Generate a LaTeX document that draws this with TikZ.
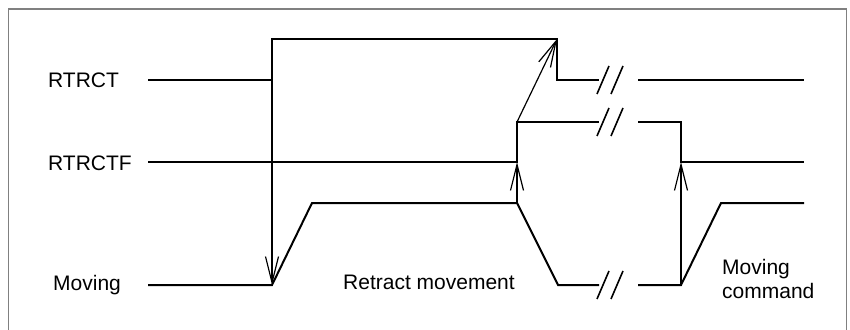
\documentclass[tikz,border=0pt]{standalone}
\usepackage{fontspec}
\setmainfont{Liberation Sans}
\usetikzlibrary{arrows.meta}
\begin{document}
\begin{tikzpicture}[x=1pt,y=-1pt,
  sig/.style={line width=2pt,line join=miter},
  evt/.style={line width=1.2pt,-{Straight Barb[length=26pt,width=13pt,line width=1.2pt]}},
  brk/.style={line width=1.6pt},
  lbl/.style={inner sep=0pt,font=\fontsize{21}{24}\selectfont},
  frame/.style={draw=black!50,line width=1.6pt}]
\useasboundingbox (0,0) rectangle (850,329);
\fill[white] (0,0) rectangle (850,329);
\draw[frame] (8.5,340) -- (8.5,9) -- (846.5,9) -- (846.5,340);
% labels
\node[lbl,anchor=base west] (lrt) at (48,87) {RTRCT};
\node[lbl,anchor=base west] (lrtf) at (48,170) {RTRCTF};
\node[lbl,anchor=base west] (lmv) at (53,290) {Moving};
\node[lbl,anchor=base west] (lret) at (343,289) {Retract movement};
\node[lbl,anchor=base west,align=left] (lcmd) at (722,274) {Moving};
\node[lbl,anchor=base west] (lcmd2) at (722,298) {command};
% named points
\coordinate (a1) at (272,80);
\coordinate (a1e) at (272,285);
\coordinate (b1) at (517,203);
\coordinate (b1e) at (517,162);
\coordinate (c1) at (517,122);
\coordinate (c1e) at (557,39);
\coordinate (d1) at (681,285);
\coordinate (d1e) at (681,162);
% signals
\draw[sig] (148,80) -- (272,80) -- (272,39) -- (557,39) -- (557,80) -- (599,80);
\draw[sig] (638,80) -- (804,80);
\draw[sig] (148,162) -- (517,162) -- (517,122) -- (599,122);
\draw[sig] (638,122) -- (681,122) -- (681,162) -- (804,162);
\draw[sig] (148,285) -- (272,285) -- (312,203) -- (517,203) -- (558,285) -- (599,285);
\draw[sig] (638,285) -- (681,285) -- (721,203) -- (804,203);
% break marks
\foreach \yy in {80,122,285}{
  \draw[brk] (597,\yy+14) -- (609,\yy-14);
  \draw[brk] (611,\yy+14) -- (623,\yy-14);
}
% event arrows
\draw[evt] (a1) -- (a1e);
\draw[evt] (b1) -- (b1e);
\draw[evt] (c1) -- (c1e);
\draw[evt] (d1) -- (d1e);
\end{tikzpicture}
\end{document}
